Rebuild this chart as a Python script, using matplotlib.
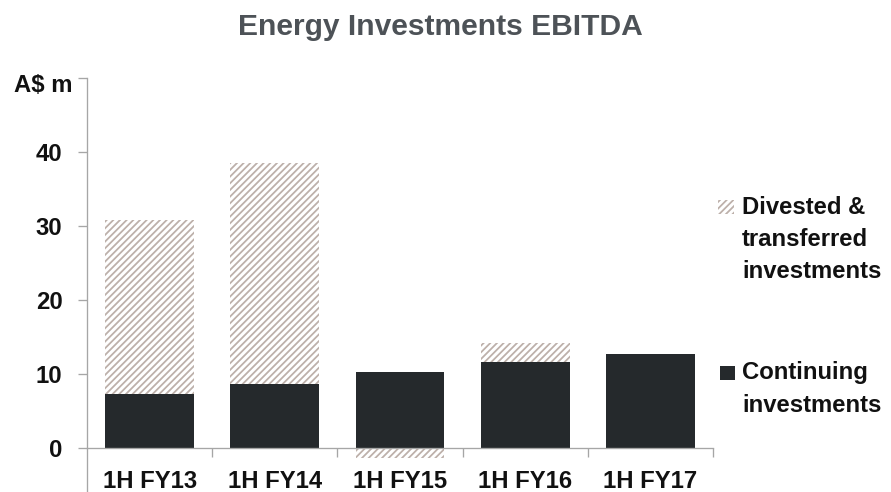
import matplotlib
matplotlib.use("Agg")
import matplotlib.pyplot as plt
from matplotlib.patches import Rectangle
import numpy as np

categories = ['1H FY13', '1H FY14', '1H FY15', '1H FY16', '1H FY17']
continuing = [7.3, 8.6, 10.3, 11.6, 12.7]
divested = [23.5, 29.9, -1.3, 2.6, 0.0]
yticks = [0, 10, 20, 30, 40, 50]
yticklabels = ['0', '10', '20', '30', '40', '']
title = 'Energy Investments EBITDA'
unit_label = 'A$ m'
legend_div = 'Divested &\ntransferred\ninvestments'
legend_cont = 'Continuing\ninvestments'

DPI = 80
W, H = 891, 492
plt.rcParams['font.family'] = ['Liberation Sans', 'DejaVu Sans']
plt.rcParams['hatch.linewidth'] = 1.6

dark = '#25292c'
hatch_col = '#bdb0aa'
spine_col = '#a6a6a6'
txt_col = '#111111'
FS = 21.5

fig = plt.figure(figsize=(W / DPI, H / DPI), dpi=DPI)
ax = fig.add_axes([87 / W, 0, (713 - 87) / W, (492 - 78) / H])

x = np.arange(len(categories))
cont = np.array(continuing)
div = np.array(divested)
div_bottom = np.where(div >= 0, cont, 0)

ax.bar(x, cont, width=0.71, color=dark, linewidth=0)
ax.bar(x, div, bottom=div_bottom, width=0.71, facecolor='white',
       edgecolor=hatch_col, hatch='////', linewidth=0)

ax.set_xlim(-0.5, 4.5)
ax.set_ylim(-5.95, 50)

for s in ['top', 'right']:
    ax.spines[s].set_visible(False)
ax.spines['bottom'].set_position(('data', 0))
ax.spines['bottom'].set_color(spine_col)
ax.spines['left'].set_color(spine_col)
ax.spines['bottom'].set_linewidth(1.2)
ax.spines['left'].set_linewidth(1.2)

ax.set_yticks(yticks)
ax.set_yticklabels(yticklabels)
ax.tick_params(axis='y', direction='out', length=8, width=1.2, color=spine_col,
               pad=14, labelsize=FS, labelcolor=txt_col)
for lab in ax.get_yticklabels():
    lab.set_fontweight('bold')

ax.set_xticks(x)
ax.set_xticklabels(categories)
ax.set_xticks(np.arange(0.5, 5, 1), minor=True)
ax.tick_params(axis='x', which='major', length=0, pad=20, labelsize=FS,
               labelcolor=txt_col)
ax.tick_params(axis='x', which='minor', direction='out', length=8, width=1.2,
               color=spine_col)
for lab in ax.get_xticklabels():
    lab.set_fontweight('bold')

fig.text(440 / W, 1 - 35 / H, title, ha='center', va='baseline',
         fontsize=27, fontweight='bold', color='#4d5257')
fig.text(72 / W, 1 - 86 / H, unit_label, ha='right', va='center',
         fontsize=FS, fontweight='bold', color=txt_col)

# legend
fig.patches.append(Rectangle((718 / W, 1 - 214 / H), 16 / W, 14 / H,
                             transform=fig.transFigure, facecolor='white',
                             edgecolor=hatch_col, hatch='////', linewidth=0))
fig.patches.append(Rectangle((720 / W, 1 - 380 / H), 15 / W, 14 / H,
                             transform=fig.transFigure, facecolor=dark,
                             linewidth=0))
fig.text(742 / W, 1 - 239 / H, legend_div, ha='left', va='center',
         fontsize=FS, fontweight='bold', color=txt_col, linespacing=1.5)
fig.text(742 / W, 1 - 389 / H, legend_cont, ha='left', va='center',
         fontsize=FS, fontweight='bold', color=txt_col, linespacing=1.5)

fig.savefig('out.png', dpi=DPI)
